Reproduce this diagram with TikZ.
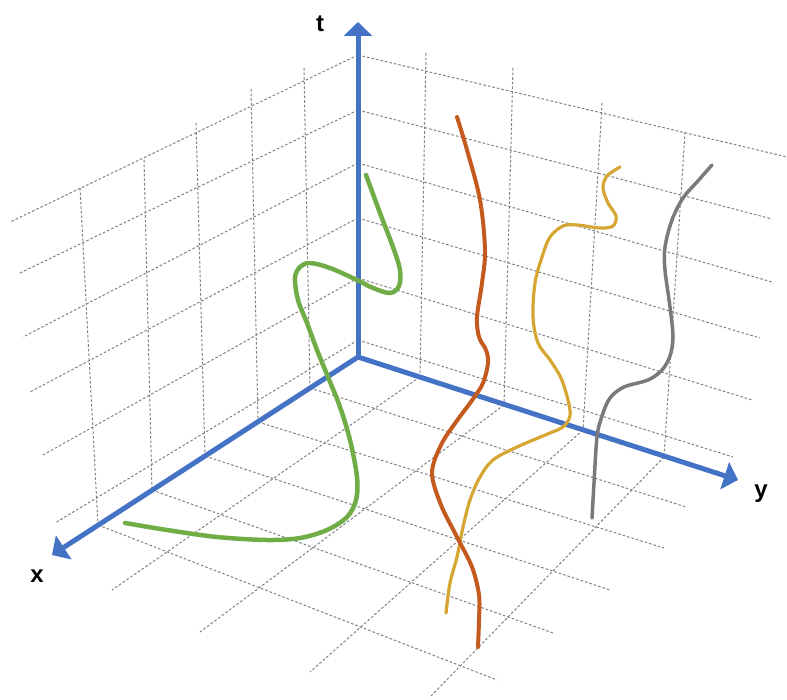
\documentclass[tikz,border=0pt]{standalone}
\usepackage{fontspec}
\setmainfont{Liberation Sans}
\usetikzlibrary{arrows.meta}
\definecolor{axisblue}{HTML}{4472C4}
\definecolor{gridgray}{HTML}{808080}
\definecolor{cgreen}{HTML}{70AD47}
\definecolor{corange}{HTML}{C55A1E}
\definecolor{cgold}{HTML}{D6A632}
\definecolor{cgray}{HTML}{7A7A7A}
\begin{document}
\begin{tikzpicture}[x=1pt,y=-1pt,
  gridline/.style={draw=gridgray, line width=1pt, dash pattern=on 2.6pt off 2pt},
  axisline/.style={draw=axisblue, line width=5pt, -{Triangle[width=28pt,length=14pt]}},
  worldline/.style={line width=4pt, line cap=round, line join=round},
  lbl/.style={font=\fontsize{24}{29}\selectfont\bfseries, inner sep=0pt}]
\useasboundingbox (0,0) rectangle (787,700);
% left wall (x-t plane): lines of constant t
\foreach \a/\b/\c/\d in {358/55/10/222, 358/110/20/273, 358/163/23/337, 358/218/30/392, 358/278/43/455, 358/340/55/523}
  \draw[gridline] (\a,\b) -- (\c,\d);
% left wall: lines of constant x
\foreach \a/\b/\c/\d in {304/68/310/388, 251/89/258/422, 196/123/205/456, 144/160/152/490, 80/188/98/525}
  \draw[gridline] (\a,\b) -- (\c,\d);
% right wall (y-t plane): lines of constant t
\foreach \a/\b/\c/\d in {358/55/787/157, 358/110/772/219, 358/163/772/282, 358/218/760/338, 358/278/752/400, 358/340/733/457}
  \draw[gridline] (\a,\b) -- (\c,\d);
% right wall: lines of constant y
\foreach \a/\b/\c/\d in {426/53/420/377, 513/68/504/405, 602/103/583/430, 685/132/664/457}
  \draw[gridline] (\a,\b) -- (\c,\d);
% floor: lines of constant x
\foreach \a/\b/\c/\d in {310/388/686/507, 258/422/664/548, 205/456/610/590, 152/490/553/633, 98/525/497/680}
  \draw[gridline] (\a,\b) -- (\c,\d);
% floor: lines of constant y
\foreach \a/\b/\c/\d in {420/377/112/590, 504/405/200/632, 583/430/310/672, 664/457/430/697}
  \draw[gridline] (\a,\b) -- (\c,\d);
% axes
\coordinate (O) at (358,357);
\coordinate (T) at (358,22);
\coordinate (X) at (52,555);
\coordinate (Y) at (738,480);
\draw[axisline, line cap=round] (O) -- (T);
\draw[axisline, line cap=round] (O) -- (X);
\draw[axisline, line cap=round] (O) -- (Y);
\node[lbl] (tl) at (320,24) {t};
\node[lbl] (xl) at (37,576) {x};
\node[lbl] (yl) at (761,494) {y};
% world lines
\draw[worldline, cgreen, line width=4.5pt] plot[smooth, tension=0.55] coordinates {
  (366,175) (380,213) (393,247) (400,270) (399,286) (390,293) (373,288) (357,280)
  (330,268) (310,263) (300,267) (295,278) (298,300) (307,323) (317,350) (328,377)
  (340,407) (350,440) (357,477) (356,500) (347,517) (327,530) (300,538) (267,540)
  (217,537) (167,530) (125,523)};
\draw[worldline, cgold, line width=3.2pt] plot[smooth, tension=0.55] coordinates {
  (620,167) (607,176) (603,188) (608,203) (616,216) (613,226) (600,228) (577,225)
  (563,226) (550,237) (542,257) (535,283) (533,317) (538,343) (550,360) (561,378)
  (568,400) (570,416) (563,427) (550,433) (517,447) (493,460) (480,477) (470,500)
  (463,527) (457,557) (450,583) (446,613)};
\draw[worldline, corange, line width=4pt] plot[smooth, tension=0.55] coordinates {
  (457,117) (467,150) (480,200) (485,250) (482,283) (477,317) (479,337) (486,350)
  (488,363) (483,383) (473,399) (456,422) (441,445) (432,473) (441,505) (457,537)
  (472,567) (479,595) (479,620) (478,647)};
\draw[worldline, cgray, line width=3.5pt] plot[smooth, tension=0.55] coordinates {
  (712,165) (697,182) (683,198) (672,220) (665,247) (665,270) (670,307) (673,337)
  (670,356) (662,370) (648,380) (624,387) (610,398) (602,416) (597,437) (594,483)
  (592,518)};
\end{tikzpicture}
\end{document}
